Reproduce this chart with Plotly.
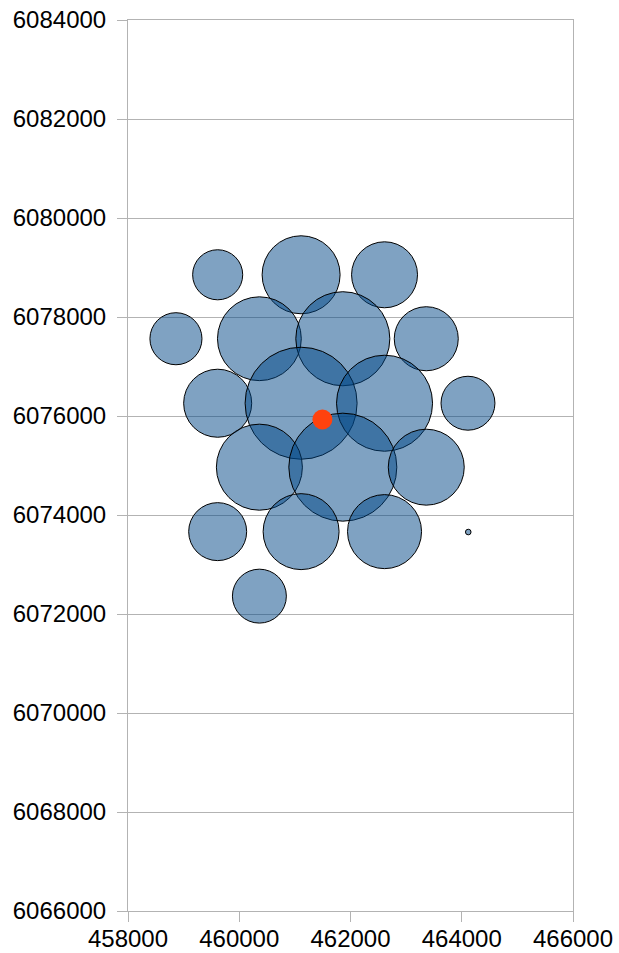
import plotly.graph_objects as go

# Bubble series (x, y, relative size)
bx = [459612, 461112, 462612,
      458862, 460362, 461862, 463362,
      459612, 461112, 462612, 464112,
      460362, 461862, 463362,
      459612, 461112, 462612,
      460362,
      464117]
by = [6078853, 6078853, 6078853,
      6077561, 6077561, 6077561, 6077561,
      6076258, 6076258, 6076258, 6076258,
      6074966, 6074966, 6074966,
      6073664, 6073664, 6073664,
      6072361,
      6073656]
bsize = [20, 48.5, 34.7,
         21.6, 56, 70.5, 32.7,
         36.9, 100, 73.5, 23.2,
         59, 93, 46,
         26.8, 46, 43.7,
         23.2,
         0.25]

# Highlighted point
px_ = [461495]
py_ = [6075929]

x_ticks = [458000, 460000, 462000, 464000, 466000]
y_ticks = [6066000, 6068000, 6070000, 6072000, 6074000, 6076000, 6078000, 6080000, 6082000, 6084000]

max_diam_px = 112
sizeref = 2 * max(bsize) / (max_diam_px ** 2)

fig = go.Figure()
fig.add_trace(go.Scatter(
    x=bx, y=by, mode="markers",
    marker=dict(size=bsize, sizemode="area", sizeref=sizeref, opacity=1,
                color="rgba(0,69,134,0.5)", line=dict(color="black", width=1)),
    showlegend=False, hoverinfo="skip"))
fig.add_trace(go.Scatter(
    x=px_, y=py_, mode="markers",
    marker=dict(size=20, color="#ff420e", opacity=1, line=dict(width=0)),
    showlegend=False, hoverinfo="skip"))

axis_common = dict(
    showline=True, linecolor="#b3b3b3", linewidth=1, mirror=True,
    ticks="outside", ticklen=10, tickcolor="#b3b3b3", tickwidth=1,
    tickfont=dict(family="Liberation Sans, Arial, sans-serif", size=24, color="black"),
    zeroline=False, automargin=False, ticklabeloverflow="allow",
)
fig.update_xaxes(range=[458000, 466000], tickvals=x_ticks, ticktext=[str(v) for v in x_ticks],
                 showgrid=False, ticklabelstandoff=-4, **axis_common)
fig.update_yaxes(range=[6066000, 6084000], tickvals=y_ticks, ticktext=[str(v) for v in y_ticks],
                 showgrid=True, gridcolor="#b3b3b3", gridwidth=1, ticklabelstandoff=6, **axis_common)

fig.update_layout(
    width=619, height=953,
    margin=dict(l=128, r=46, t=20, b=42, autoexpand=False),
    plot_bgcolor="white", paper_bgcolor="white",
)
fig.write_html("out.html", config={"displayModeBar": False, "staticPlot": True},
               post_script="document.body.style.margin='0';document.body.style.overflow='hidden';")
